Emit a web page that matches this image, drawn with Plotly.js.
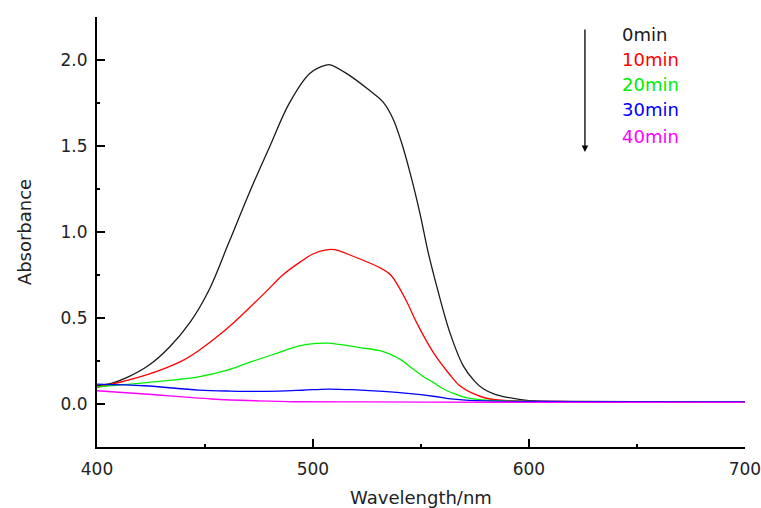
<!DOCTYPE html>
<html>
<head>
<meta charset="utf-8">
<script src="https://cdn.plot.ly/plotly-3.0.1.min.js"></script>
<style>html,body{margin:0;padding:0;background:#fff;}#chart{width:761px;height:508px;}</style>
</head>
<body>
<div id="chart"></div>
<script>
// Wavelength (nm) and absorbance readings per irradiation time
const x0 = [400, 407, 414, 424, 433.5, 443, 452, 461, 470.5, 480, 489, 498.5, 506, 508, 515.5, 526, 532.5, 537, 541, 545, 549.5, 553.4, 557.3, 563.4, 569.6, 575, 579, 584, 590, 600, 620, 650, 700];
const y0 = [0.106, 0.122, 0.155, 0.225, 0.33, 0.473, 0.666, 0.937, 1.227, 1.497, 1.748, 1.922, 1.97, 1.972, 1.922, 1.825, 1.755, 1.66, 1.52, 1.342, 1.11, 0.879, 0.685, 0.415, 0.222, 0.13, 0.087, 0.058, 0.039, 0.02, 0.015, 0.013, 0.012];

const x10 = [400, 410, 424, 432, 440, 447, 455, 463, 470.6, 478.4, 486, 494, 500, 506, 510, 518.6, 531, 536, 540, 544, 548, 555.7, 563.4, 568, 573, 582, 595, 620, 700];
const y10 = [0.097, 0.125, 0.174, 0.21, 0.255, 0.31, 0.385, 0.47, 0.56, 0.655, 0.75, 0.825, 0.872, 0.896, 0.897, 0.859, 0.792, 0.75, 0.675, 0.58, 0.473, 0.30, 0.17, 0.106, 0.068, 0.029, 0.018, 0.014, 0.012];

const x20 = [400, 424, 447, 460, 470.6, 482, 493.8, 501.6, 507, 521.7, 531, 535.6, 541, 546.4, 551, 555.7, 560, 565, 570, 580, 600, 700];
const y20 = [0.10, 0.126, 0.158, 0.195, 0.242, 0.29, 0.338, 0.352, 0.354, 0.328, 0.31, 0.29, 0.255, 0.203, 0.16, 0.126, 0.09, 0.062, 0.04, 0.022, 0.015, 0.012];

const x30 = [400, 422, 447, 462, 478, 495, 507, 520, 532.5, 545, 555.7, 566.5, 580, 620, 700];
const y30 = [0.116, 0.106, 0.081, 0.075, 0.073, 0.08, 0.087, 0.082, 0.073, 0.06, 0.045, 0.027, 0.018, 0.014, 0.012];

const x40 = [400, 422, 453, 475, 492, 520, 552, 600, 650, 700];
const y40 = [0.077, 0.058, 0.029, 0.018, 0.013, 0.012, 0.011, 0.010, 0.010, 0.010];

const seriesNames = ["0min", "10min", "20min", "30min", "40min"];
const seriesColors = ["#1a1a1a", "#ff0000", "#00ee00", "#0000ff", "#ff00ff"];
const xTickVals = [400, 500, 600, 700];
const xMinorVals = [450, 550, 650];
const xs = [x0, x10, x20, x30, x40];
const ys = [y0, y10, y20, y30, y40];

const FONT = "DejaVu Sans, Arial, sans-serif";

const traces = xs.map((x, i) => ({
  type: "scatter",
  mode: "lines",
  x: x,
  y: ys[i],
  name: seriesNames[i],
  line: {color: seriesColors[i], width: 1.3, shape: "spline", smoothing: 1},
  showlegend: false,
  hoverinfo: "skip",
  cliponaxis: false
}));

const legendY = [0.960, 0.900, 0.842, 0.784, 0.723];
const annotations = seriesNames.map((n, i) => ({
  xref: "paper", yref: "paper",
  x: 0.807, y: legendY[i],
  xanchor: "left", yanchor: "middle",
  text: n, showarrow: false,
  font: {family: FONT, size: 18, color: seriesColors[i]}
}));
annotations.push({
  xref: "paper", yref: "paper",
  x: 0.753, y: 0.686,
  text: "", showarrow: true,
  ax: 0, ay: -124, axref: "pixel", ayref: "pixel",
  arrowhead: 2, arrowsize: 1, arrowwidth: 1.3, arrowcolor: "#000"
});

const layout = {
  width: 761, height: 508,
  margin: {l: 97, r: 16, t: 17, b: 61},
  paper_bgcolor: "#fff", plot_bgcolor: "#fff",
  font: {family: FONT, size: 17, color: "#222"},
  xaxis: {
    range: [400, 700.05],
    tickmode: "array", tickvals: xTickVals, ticktext: xTickVals.map(String),
    ticklabeloverflow: "allow",
    showgrid: false, zeroline: false,
    showline: true, linecolor: "#000", linewidth: 2,
    ticks: "inside", ticklen: 8, tickwidth: 2, tickcolor: "#000",
    minor: {tickmode: "array", tickvals: xMinorVals, ticks: "inside", ticklen: 3, tickwidth: 2, tickcolor: "#000"},
    ticklabelstandoff: 6,
    tickfont: {family: FONT, size: 17, color: "#222"},
    title: {text: "Wavelength/nm", standoff: 13, font: {family: FONT, size: 18, color: "#222"}}
  },
  yaxis: {
    range: [-0.25, 2.25], dtick: 0.5, tick0: 0, tickformat: ".1f",
    showgrid: false, zeroline: false,
    showline: true, linecolor: "#000", linewidth: 2,
    ticks: "inside", ticklen: 8, tickwidth: 2, tickcolor: "#000",
    minor: {dtick: 0.25, ticks: "inside", ticklen: 3, tickwidth: 2, tickcolor: "#000"},
    ticklabelstandoff: 4,
    tickfont: {family: FONT, size: 17, color: "#222"},
    title: {text: "Absorbance", standoff: 24, font: {family: FONT, size: 18, color: "#222"}}
  },
  annotations: annotations
};

Plotly.newPlot("chart", traces, layout, {displayModeBar: false, staticPlot: true});
</script>
</body>
</html>
